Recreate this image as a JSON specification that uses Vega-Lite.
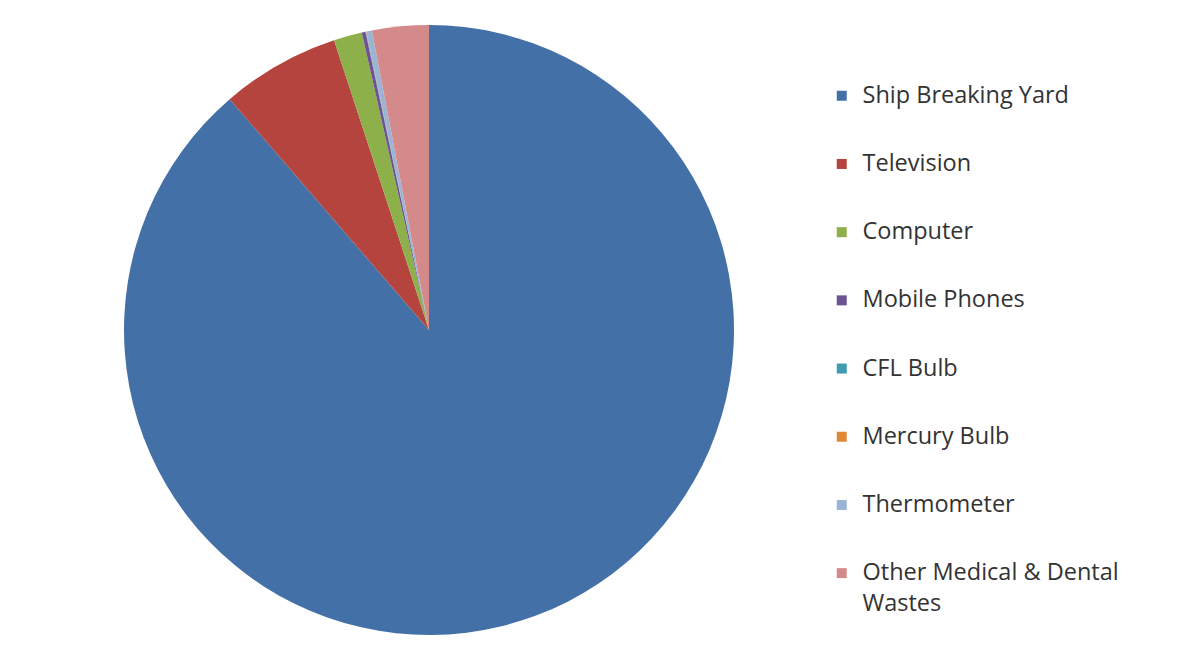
{
  "$schema": "https://vega.github.io/schema/vega-lite/v6.json",
  "width": 610,
  "height": 610,
  "padding": {"left": 124, "top": 25, "right": 5, "bottom": 5},
  "background": "#ffffff",
  "data": {
    "values": [
      {"source": "Ship Breaking Yard", "share": 88.7, "idx": 1},
      {"source": "Television", "share": 6.3, "idx": 2},
      {"source": "Computer", "share": 1.5, "idx": 3},
      {"source": "Mobile Phones", "share": 0.2, "idx": 4},
      {"source": "CFL Bulb", "share": 0.02, "idx": 5},
      {"source": "Mercury Bulb", "share": 0.02, "idx": 6},
      {"source": "Thermometer", "share": 0.3, "idx": 7},
      {"source": "Other Medical & Dental Wastes", "share": 3.0, "idx": 8}
    ]
  },
  "mark": {"type": "arc", "outerRadius": 305, "stroke": null},
  "encoding": {
    "theta": {"field": "share", "type": "quantitative", "stack": true},
    "order": {"field": "idx", "type": "quantitative"},
    "color": {
      "field": "source",
      "type": "nominal",
      "scale": {
        "domain": ["Ship Breaking Yard", "Television", "Computer", "Mobile Phones", "CFL Bulb", "Mercury Bulb", "Thermometer", "Other Medical & Dental Wastes"],
        "range": ["#4470A8", "#B5443F", "#8DB04A", "#6E5393", "#3F9BB0", "#E08838", "#9BB4D6", "#D48A8A"]
      },
      "legend": {
        "title": null,
        "orient": "none",
        "legendX": 706,
        "legendY": 59,
        "symbolType": "square",
        "symbolSize": 100,
        "symbolStrokeWidth": 0,
        "symbolOpacity": 1,
        "labelFont": "Open Sans",
        "labelFontSize": 23.5,
        "labelColor": "#333333",
        "labelOffset": 9,
        "labelLimit": 400,
        "rowPadding": 43.2,
        "labelExpr": "datum.label == 'Other Medical & Dental Wastes' ? ['Other Medical & Dental', 'Wastes'] : datum.label"
      }
    }
  },
  "config": {"view": {"stroke": null}, "style": {"guide-label": {"lineHeight": 31}}}
}
